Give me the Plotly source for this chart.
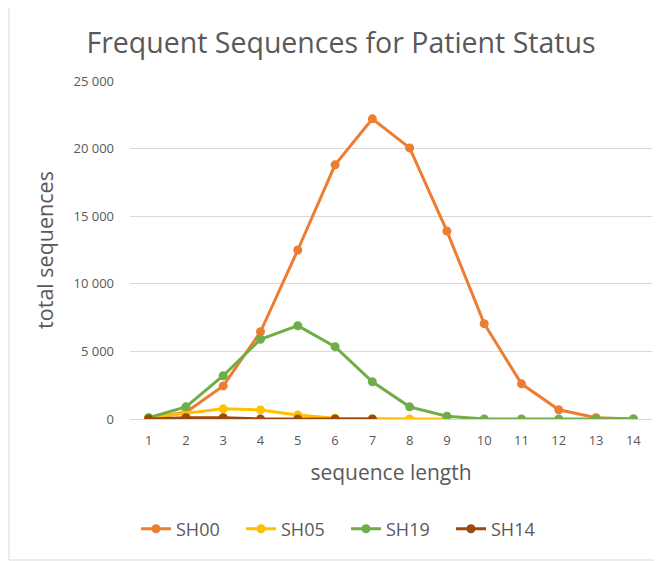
import plotly.graph_objects as go

x_len = list(range(1, 15))
sh00 = [50, 500, 2450, 6450, 12500, 18800, 22200, 20050, 13900, 7050, 2600, 680, 100, 0]
sh05 = [100, 400, 750, 670, 300, 50, 0, 0, 0]
sh19 = [100, 900, 3200, 5900, 6900, 5350, 2750, 900, 200, 0, 0, 0, 0, 0]
sh14 = [0, 100, 100, 0, 0, 0, 0]

series = [
    ("SH00", sh00, "#ED7D31"),
    ("SH05", sh05, "#FFC000"),
    ("SH19", sh19, "#70AD47"),
    ("SH14", sh14, "#9E480E"),
]

fig = go.Figure()
for name, vals, col in series:
    fig.add_trace(go.Scatter(
        x=x_len[:len(vals)], y=vals, name=name, mode="lines+markers",
        line=dict(color=col, width=3), marker=dict(color=col, size=9),
    ))

OFF = 8  # page body margin
W, H = 662 - OFF, 561 - OFF
L, R, T, B = 130 - OFF, 652 - OFF, 81 - OFF, 419 - OFF

def px(v):
    return ((v - OFF) - L) / (R - L)
def py(v):
    return (B - (v - OFF)) / (B - T)

fig.update_layout(
    width=W, height=H,
    margin=dict(l=L, r=W - R, t=T, b=H - B),
    paper_bgcolor="white", plot_bgcolor="white",
    separators=". ",
    font=dict(family="Open Sans, sans-serif", color="#595959"),
    title=dict(text="Frequent Sequences for Patient Status", x=px(341), xref="paper",
               y=1 - (43 - OFF) / H, yanchor="middle", xanchor="center",
               font=dict(size=28.5, color="#595959")),
    xaxis=dict(range=[0.5, 14.5], tickmode="array", tickvals=x_len,
               ticktext=[str(v) for v in x_len], showgrid=False,
               showline=True, linecolor="#D9D9D9", linewidth=1,
               ticks="", ticklabelstandoff=9, tickfont=dict(size=13, color="#595959"),
               title=dict(text="sequence length", font=dict(size=21, color="#595959"), standoff=17),
               zeroline=False, fixedrange=True),
    yaxis=dict(range=[0, 25000], tickvals=[0, 5000, 10000, 15000, 20000, 25000],
               tickformat=",d", showgrid=True, gridcolor="#D9D9D9", gridwidth=1,
               zeroline=False, ticks="", ticklabelstandoff=15,
               tickfont=dict(size=13, color="#595959"),
               title=dict(text="total sequences", font=dict(size=21.5, color="#595959"), standoff=13),
               fixedrange=True),
    legend=dict(orientation="h", x=px(346), xanchor="center", y=py(529), yanchor="middle",
                font=dict(size=18, color="#595959"), tracegroupgap=0,
                entrywidth=60, entrywidthmode="pixels"),
    showlegend=True,
    shapes=[
        dict(type="line", xref="paper", yref="paper", x0=px(9), x1=px(9), y0=py(560), y1=py(3),
             line=dict(color="#D9D9D9", width=1), layer="above"),
        dict(type="line", xref="paper", yref="paper", x0=px(9), x1=px(700), y0=py(560), y1=py(560),
             line=dict(color="#D9D9D9", width=1), layer="above"),
    ],
)

fig.write_html("out.html")
